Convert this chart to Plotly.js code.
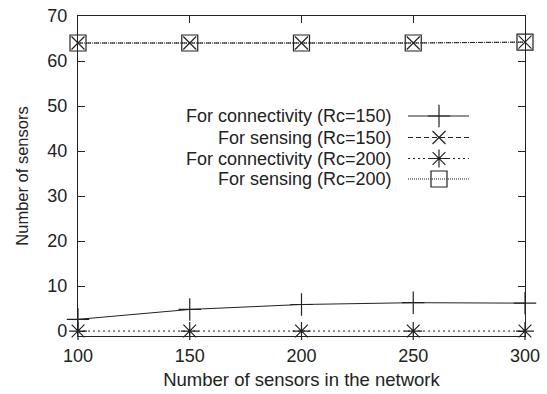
<!DOCTYPE html>
<html>
<head>
<meta charset="utf-8">
<script src="https://cdn.plot.ly/plotly-3.0.1.min.js"></script>
<style>html,body{margin:0;padding:0;background:#fff;}#chart{width:547px;height:394px;}</style>
</head>
<body>
<div id="chart"></div>
<script>
// ---- data ----
const networkSizes = [100, 150, 200, 250, 300];
const connectivityRc150 = [2.6, 4.8, 5.9, 6.3, 6.2];
const sensingRc150 = [64, 64, 64, 64, 64.2];
const connectivityRc200 = [0, 0, 0, 0, 0];
const sensingRc200 = [64, 64, 64, 64, 64.2];
const seriesNames = [
  "For connectivity (Rc=150)",
  "For sensing (Rc=150)",
  "For connectivity (Rc=200)",
  "For sensing (Rc=200)"
];
const xTicks = [100, 150, 200, 250, 300];
const yTicks = [0, 10, 20, 30, 40, 50, 60, 70];

// ---- styling ----
const ink = "#222";
const font = "Liberation Sans, Arial, sans-serif";
const styles = [
  {dash: "solid", symbol: "cross-thin-open", size: 16},
  {dash: "5px,3px", symbol: "x-thin-open", size: 13},
  {dash: "2px,3px", symbol: "asterisk-open", size: 15},
  {dash: "1px,1px", symbol: "square-open", size: 16}
];
const seriesValues = [connectivityRc150, sensingRc150, connectivityRc200, sensingRc200];

const traces = seriesValues.map((vals, i) => ({
  x: networkSizes, y: vals, type: "scatter", mode: "lines+markers",
  name: seriesNames[i], showlegend: false, cliponaxis: false,
  line: {color: ink, width: 1, dash: styles[i].dash},
  marker: {symbol: styles[i].symbol, size: styles[i].size, color: ink,
           line: {color: ink, width: 1.2}}
}));

// legend built on a pixel-space overlay axis (layout only)
const legendRowY = [116, 137.5, 158.5, 179];
const legendLineX = [408, 469];
const legendMarkX = 439;
const legendTextX = 394;
const annotations = [];
seriesNames.forEach((nm, i) => {
  traces.push({
    x: legendLineX, y: [legendRowY[i], legendRowY[i]], xaxis: "x2", yaxis: "y2",
    type: "scatter", mode: "lines", showlegend: false, hoverinfo: "skip",
    line: {color: ink, width: 1, dash: styles[i].dash}
  });
  traces.push({
    x: [legendMarkX], y: [legendRowY[i]], xaxis: "x2", yaxis: "y2",
    type: "scatter", mode: "markers", showlegend: false, hoverinfo: "skip",
    marker: {symbol: styles[i].symbol, size: styles[i].size, color: ink,
             line: {color: ink, width: 1.2}}
  });
  annotations.push({
    xref: "x2", yref: "y2", x: legendTextX, y: legendRowY[i],
    text: nm, showarrow: false, xanchor: "right", yanchor: "middle",
    font: {family: font, size: 18, color: ink}
  });
});

const layout = {
  width: 547, height: 394,
  margin: {l: 78, r: 22, t: 16, b: 58},
  paper_bgcolor: "#fff", plot_bgcolor: "#fff",
  font: {family: font, size: 18, color: ink},
  showlegend: false,
  xaxis: {
    range: [100, 300], tickvals: xTicks, ticks: "inside", ticklen: 7,
    tickcolor: ink, showline: true, linecolor: ink, linewidth: 1.2,
    mirror: "ticks", showgrid: false, zeroline: false,
    ticklabelstandoff: 3,
    title: {text: "Number of sensors in the network", font: {size: 18.5}, standoff: 8}
  },
  yaxis: {
    range: [-1.1, 70], tickvals: yTicks, ticks: "inside", ticklen: 7,
    tickcolor: ink, showline: true, linecolor: ink, linewidth: 1.2,
    mirror: "ticks", showgrid: false, zeroline: false,
    ticklabelstandoff: 6,
    title: {text: "Number of sensors", font: {size: 16.5}, standoff: 14}
  },
  xaxis2: {overlaying: "x", range: [78, 525], visible: false, fixedrange: true},
  yaxis2: {overlaying: "y", range: [336, 16], visible: false, fixedrange: true},
  annotations: annotations
};

Plotly.newPlot("chart", traces, layout, {displayModeBar: false, staticPlot: true});
</script>
</body>
</html>
